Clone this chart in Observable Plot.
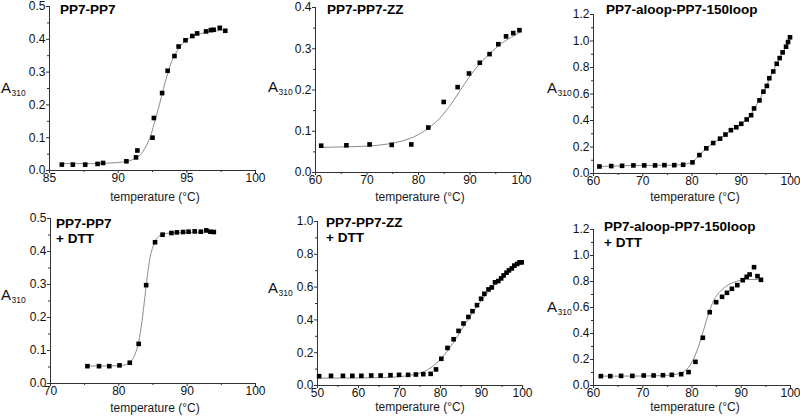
<!DOCTYPE html>
<html>
<head>
<meta charset="utf-8">
<script src="https://cdn.jsdelivr.net/npm/d3@7"></script>
<script src="https://cdn.jsdelivr.net/npm/@observablehq/plot@0.6"></script>
<style>
  body { margin: 0; background: #fff; }
  #wrap { position: relative; width: 800px; height: 418px; overflow: hidden; font-family: "Liberation Sans", Arial, sans-serif; color: #111; }
  #wrap svg text { font-size: 12px; }
  .panel { position: absolute; }
  .title { position: absolute; font-weight: bold; font-size: 13.5px; line-height: 15px; color: #000; white-space: nowrap; }
  .ylab { position: absolute; font-size: 15px; line-height: 15px; white-space: nowrap; color: #111; }
  .ylab span { font-size: 8.5px; position: relative; top: 3px; margin-left: 0.5px; }
  .xlab { position: absolute; font-size: 12px; line-height: 13px; text-align: center; white-space: nowrap; color: #1a1a1a; }
</style>
</head>
<body>
<div id="wrap"></div>
<script>
// ---------- Data ----------
// Panel 1: PP7-PP7
const p1Temp = [85.9, 86.7, 87.6, 88.5, 88.9, 90.6, 91.3, 91.4, 92.5, 92.6, 93.2, 93.6, 94.1, 94.4, 94.9, 95.4, 95.75, 96.4, 96.75, 96.95, 97.4, 97.8];
const p1A310 = [0.018, 0.018, 0.018, 0.020, 0.023, 0.028, 0.040, 0.061, 0.100, 0.160, 0.236, 0.304, 0.349, 0.378, 0.397, 0.410, 0.418, 0.424, 0.428, 0.429, 0.435, 0.426];
const p1FitTemp = [85.9, 88.0, 89.5, 90.5, 91.2, 91.7, 92.1, 92.4, 92.7, 93.0, 93.3, 93.6, 93.9, 94.3, 94.7, 95.2, 95.8, 96.5, 97.8];
const p1FitA310 = [0.021, 0.021, 0.023, 0.027, 0.036, 0.052, 0.080, 0.110, 0.155, 0.200, 0.250, 0.295, 0.333, 0.365, 0.388, 0.404, 0.415, 0.422, 0.428];

// Panel 2: PP7-PP7-ZZ
const p2Temp = [61.1, 66.0, 70.5, 74.8, 78.6, 81.9, 84.9, 87.6, 89.8, 91.9, 93.8, 95.5, 97.0, 98.4, 99.6];
const p2A310 = [0.065, 0.066, 0.068, 0.067, 0.068, 0.109, 0.171, 0.207, 0.240, 0.266, 0.287, 0.311, 0.330, 0.338, 0.345];
const p2FitTemp = [61, 65, 70, 74, 77, 80, 82, 84, 86, 88, 90, 92, 94, 96, 98, 99.7];
const p2FitA310 = [0.061, 0.062, 0.064, 0.069, 0.077, 0.092, 0.108, 0.130, 0.160, 0.197, 0.234, 0.265, 0.290, 0.312, 0.328, 0.340];

// Panel 3: PP7-aloop-PP7-150loop (points joined by a line)
const p3Temp = [61.2, 63.6, 65.8, 68.1, 70.3, 72.5, 74.4, 76.4, 78.2, 80.1, 81.5, 82.9, 84.3, 85.7, 86.8, 87.9, 89.0, 90.0, 91.1, 92.0, 92.6, 93.7, 94.5, 95.2, 95.7, 96.5, 97.2, 97.8, 98.4, 99.1, 99.5, 99.9];
const p3A310 = [0.053, 0.056, 0.058, 0.061, 0.061, 0.061, 0.063, 0.063, 0.066, 0.084, 0.139, 0.190, 0.230, 0.263, 0.294, 0.327, 0.349, 0.375, 0.408, 0.440, 0.491, 0.552, 0.618, 0.661, 0.719, 0.770, 0.828, 0.871, 0.914, 0.957, 0.992, 1.028];

// Panel 4: PP7-PP7 + DTT
const p4Temp = [75.4, 77.1, 78.6, 80.1, 81.6, 82.9, 84.0, 85.3, 86.4, 87.7, 88.5, 89.4, 90.2, 91.1, 92.0, 92.8, 93.4, 93.9];
const p4A310 = [0.0525, 0.0525, 0.0525, 0.055, 0.063, 0.120, 0.298, 0.428, 0.451, 0.456, 0.458, 0.459, 0.460, 0.461, 0.460, 0.464, 0.460, 0.459];
const p4FitTemp = [75.3, 78.0, 80.0, 81.0, 81.7, 82.3, 82.9, 83.4, 83.8, 84.2, 84.6, 85.0, 85.5, 86.2, 87.5, 94.0];
const p4FitA310 = [0.053, 0.053, 0.054, 0.057, 0.065, 0.085, 0.125, 0.190, 0.260, 0.330, 0.385, 0.415, 0.438, 0.450, 0.456, 0.459];

// Panel 5: PP7-PP7-ZZ + DTT
const p5Temp = [50.4, 53.3, 56.2, 58.5, 60.7, 63.1, 65.4, 67.8, 69.9, 72.1, 74.0, 75.8, 77.6, 78.9, 80.2, 81.7, 83.2, 84.4, 85.6, 86.8, 87.8, 88.9, 89.9, 90.7, 91.7, 92.5, 93.3, 94.1, 94.8, 95.4, 96.1, 96.7, 97.4, 98.0, 98.7, 99.3, 99.8];
const p5A310 = [0.057, 0.059, 0.059, 0.059, 0.059, 0.061, 0.061, 0.063, 0.065, 0.065, 0.067, 0.069, 0.071, 0.098, 0.163, 0.229, 0.282, 0.333, 0.378, 0.418, 0.453, 0.490, 0.529, 0.559, 0.586, 0.598, 0.629, 0.637, 0.653, 0.671, 0.688, 0.702, 0.714, 0.731, 0.741, 0.751, 0.751];
const p5FitTemp = [50.2, 60, 66, 70, 73, 76, 78, 80, 82, 84, 86, 88, 90, 92, 94, 96, 98, 99.8];
const p5FitA310 = [0.045, 0.046, 0.048, 0.054, 0.064, 0.085, 0.115, 0.160, 0.220, 0.295, 0.375, 0.450, 0.520, 0.580, 0.635, 0.680, 0.720, 0.750];

// Panel 6: PP7-aloop-PP7-150loop + DTT
const p6Temp = [61.5, 63.4, 65.6, 67.9, 70.2, 72.2, 74.1, 75.9, 77.8, 79.3, 80.7, 82.2, 83.6, 84.9, 86.1, 87.1, 88.1, 89.2, 90.3, 91.1, 91.7, 92.6, 93.3, 94.0];
const p6A310 = [0.072, 0.072, 0.074, 0.074, 0.077, 0.077, 0.079, 0.082, 0.087, 0.103, 0.182, 0.367, 0.564, 0.641, 0.682, 0.713, 0.744, 0.772, 0.810, 0.836, 0.854, 0.910, 0.841, 0.813];
const p6FitTemp = [61, 70, 75, 77, 78.5, 79.5, 80.5, 81.5, 82.3, 83, 83.7, 84.5, 85.5, 87, 89, 91, 93, 94];
const p6FitA310 = [0.072, 0.073, 0.078, 0.088, 0.110, 0.150, 0.220, 0.320, 0.420, 0.510, 0.590, 0.660, 0.715, 0.765, 0.800, 0.815, 0.815, 0.810];

// Tick values
const ticks85 = [85, 90, 95, 100];
const minor85 = [87.5, 92.5, 97.5];
const ticks60 = [60, 70, 80, 90, 100];
const minor60 = [65, 75, 85, 95];
const ticks70 = [70, 80, 90, 100];
const minor70 = [75, 85, 95];
const ticks50 = [50, 60, 70, 80, 90, 100];
const minor50 = [55, 65, 75, 85, 95];
const yTicks05 = [0, 0.1, 0.2, 0.3, 0.4, 0.5];
const yMinor05 = [0.05, 0.15, 0.25, 0.35, 0.45];
const yTicks04 = [0, 0.1, 0.2, 0.3, 0.4];
const yMinor04 = [0.05, 0.15, 0.25, 0.35];
const yTicks12 = [0, 0.2, 0.4, 0.6, 0.8, 1.0, 1.2];
const yMinor12 = [0.1, 0.3, 0.5, 0.7, 0.9, 1.1];
const yTicks10 = [0, 0.2, 0.4, 0.6, 0.8, 1.0];
const yMinor10 = [0.1, 0.3, 0.5, 0.7, 0.9];

// Texts
const titles = [["PP7-PP7"], ["PP7-PP7-ZZ"], ["PP7-aloop-PP7-150loop"], ["PP7-PP7", "+ DTT"], ["PP7-PP7-ZZ", "+ DTT"], ["PP7-aloop-PP7-150loop", "+ DTT"]];
const xLabel = "temperature (°C)";

// ---------- Layout ----------
const panels = [
  {t: p1Temp, a: p1A310, fitT: p1FitTemp, fitA: p1FitA310, xDomain: [85, 100], yDomain: [0, 0.5], xTicks: ticks85, xMinor: minor85, yTicks: yTicks05, yMinor: yMinor05,
   left: 0, top: 0, width: 265, height: 208, mL: 49, mR: 10, mT: 6, mB: 38,
   title: {left: 60, top: 1.5}, ylab: {left: 1, top: 80}, xlab: {center: 155, top: 191}},
  {t: p2Temp, a: p2A310, fitT: p2FitTemp, fitA: p2FitA310, xDomain: [60, 100], yDomain: [0, 0.4], xTicks: ticks60, xMinor: minor60, yTicks: yTicks04, yMinor: yMinor04,
   left: 265, top: 0, width: 270, height: 208, mL: 50, mR: 14, mT: 7, mB: 36,
   title: {left: 327, top: 2}, ylab: {left: 268, top: 79}, xlab: {center: 420, top: 191}},
  {t: p3Temp, a: p3A310, connect: true, xDomain: [60, 100], yDomain: [0, 1.2], xTicks: ticks60, xMinor: minor60, yTicks: yTicks12, yMinor: yMinor12,
   left: 530, top: 0, width: 270, height: 208, mL: 63, mR: 10, mT: 14, mB: 35,
   title: {left: 606, top: 2}, ylab: {left: 547, top: 80}, xlab: {center: 695, top: 191}},
  {t: p4Temp, a: p4A310, fitT: p4FitTemp, fitA: p4FitA310, xDomain: [70, 100], yDomain: [0, 0.5], xTicks: ticks70, xMinor: minor70, yTicks: yTicks05, yMinor: yMinor05,
   left: 0, top: 208, width: 265, height: 210, mL: 50, mR: 10, mT: 10, mB: 35,
   title: {left: 56, top: 215.5}, ylab: {left: 1, top: 287}, xlab: {center: 155, top: 402}},
  {t: p5Temp, a: p5A310, fitT: p5FitTemp, fitA: p5FitA310, xDomain: [50, 100], yDomain: [0, 1.0], xTicks: ticks50, xMinor: minor50, yTicks: yTicks10, yMinor: yMinor10,
   left: 265, top: 208, width: 270, height: 210, mL: 52, mR: 13, mT: 13, mB: 33,
   title: {left: 326, top: 214.5}, ylab: {left: 268, top: 280}, xlab: {center: 420, top: 401}},
  {t: p6Temp, a: p6A310, fitT: p6FitTemp, fitA: p6FitA310, xDomain: [60, 100], yDomain: [0, 1.2], xTicks: ticks60, xMinor: minor60, yTicks: yTicks12, yMinor: yMinor12,
   left: 530, top: 208, width: 270, height: 210, mL: 63, mR: 10, mT: 21, mB: 33,
   title: {left: 604, top: 219}, ylab: {left: 547, top: 299}, xlab: {center: 695, top: 401}}
];

const wrap = document.getElementById("wrap");
const fmt = d3.format(".1f");

panels.forEach((c, k) => {
  const pts = c.t.map((t, i) => ({t, a: c.a[i]}));
  const marks = [];
  if (c.fitT) {
    const fit = c.fitT.map((t, i) => ({t, a: c.fitA[i]}));
    marks.push(Plot.line(fit, {x: "t", y: "a", curve: "monotone-x", stroke: "#8c8c8c", strokeWidth: 1}));
  }
  if (c.connect) {
    marks.push(Plot.line(pts, {x: "t", y: "a", stroke: "#8c8c8c", strokeWidth: 1}));
  }
  marks.push(
    Plot.ruleX([c.xDomain[0]], {stroke: "#333", strokeWidth: 1}),
    Plot.ruleY([c.yDomain[0]], {stroke: "#333", strokeWidth: 1}),
    Plot.axisX(c.xMinor, {tickSize: 2, tickFormat: () => "", label: null, stroke: "#333"}),
    Plot.axisX(c.xTicks, {tickSize: 3, tickPadding: 0, label: null, fontSize: 12, color: "#111", stroke: "#333", tickFormat: d => String(d)}),
    Plot.axisY(c.yMinor, {tickSize: 2, tickFormat: () => "", label: null, stroke: "#333"}),
    Plot.axisY(c.yTicks, {tickSize: 3, tickPadding: 1, label: null, fontSize: 12, color: "#111", stroke: "#333", tickFormat: fmt}),
    Plot.dot(pts, {x: "t", y: "a", symbol: "square", r: 2.6, fill: "#000", stroke: null})
  );
  const chart = Plot.plot({
    width: c.width, height: c.height,
    marginLeft: c.mL, marginRight: c.mR, marginTop: c.mT, marginBottom: c.mB,
    x: {domain: c.xDomain},
    y: {domain: c.yDomain},
    style: {fontFamily: "'Liberation Sans', Arial, sans-serif", fontSize: "12px", background: "transparent", overflow: "visible"},
    marks
  });
  const holder = document.createElement("div");
  holder.className = "panel";
  holder.style.left = c.left + "px";
  holder.style.top = c.top + "px";
  holder.appendChild(chart);
  wrap.appendChild(holder);

  titles[k].forEach((line, j) => {
    const tt = document.createElement("div");
    tt.className = "title";
    tt.style.left = c.title.left + "px";
    tt.style.top = (c.title.top + j * 15.5) + "px";
    tt.textContent = line;
    wrap.appendChild(tt);
  });

  const yl = document.createElement("div");
  yl.className = "ylab";
  yl.style.left = c.ylab.left + "px";
  yl.style.top = c.ylab.top + "px";
  yl.innerHTML = "A<span>310</span>";
  wrap.appendChild(yl);

  const xl = document.createElement("div");
  xl.className = "xlab";
  xl.style.left = (c.xlab.center - 60) + "px";
  xl.style.width = "120px";
  xl.style.top = c.xlab.top + "px";
  xl.textContent = xLabel;
  wrap.appendChild(xl);
});
</script>
</body>
</html>
